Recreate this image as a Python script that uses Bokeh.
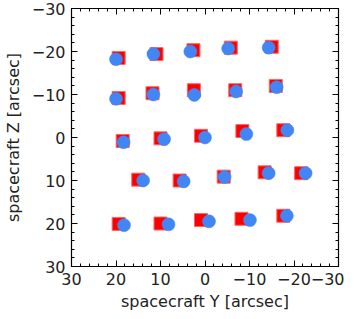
from bokeh.plotting import figure
from bokeh.models import Range1d, FixedTicker, LinearAxis
from bokeh.embed import file_html
from bokeh.resources import INLINE

# Red squares (spacecraft Y, Z)
red_y = [19.4, 10.9, 2.6, -5.8, -15.0,
         19.4, 11.8, 2.5, -6.8, -15.9,
         18.5, 10.0, 0.9, -8.4, -17.6,
         15.0, 5.7, -4.2, -13.4, -21.6,
         19.4, 10.0, 0.9, -8.2, -17.6]
red_z = [-18.5, -19.4, -20.3, -20.9, -21.1,
         -9.2, -10.3, -11.0, -11.0, -12.0,
         0.8, 0.2, -0.4, -1.5, -1.7,
         9.8, 10.0, 9.1, 8.1, 8.3,
         20.1, 20.0, 19.2, 18.9, 18.2]
# Blue circles (spacecraft Y, Z)
blue_y = [20.0, 11.6, 3.3, -5.2, -14.3,
          20.0, 11.6, 2.4, -7.0, -16.1,
          18.3, 9.2, 0.0, -9.3, -18.5,
          13.9, 4.8, -4.4, -14.3, -22.6,
          18.2, 8.2, -0.9, -10.1, -18.4]
blue_z = [-18.2, -19.4, -20.0, -20.7, -20.9,
          -9.0, -10.0, -9.9, -10.7, -11.7,
          1.1, 0.4, 0.0, -0.8, -1.7,
          10.0, 10.2, 9.2, 8.3, 8.3,
          20.4, 20.2, 19.5, 19.2, 18.2]

major = [-30, -20, -10, 0, 10, 20, 30]
minor = list(range(-30, 31, 2))
labels = {v: (("\u2212" + str(-v)) if v < 0 else str(v)) for v in major}

FONT = "DejaVu Sans"
FS = "16px"

p = figure(frame_width=267, frame_height=258,
           x_range=Range1d(30, -30), y_range=Range1d(30, -30),
           output_backend="svg", toolbar_location=None,
           x_axis_label="spacecraft Y [arcsec]",
           y_axis_label="spacecraft Z [arcsec]",
           min_border_top=8, min_border_right=6, min_border_left=4, min_border_bottom=2)
p.grid.visible = False
p.background_fill_color = "white"
p.border_fill_color = "white"
p.outline_line_color = "black"
p.outline_line_width = 1.2

for ax in p.axis:
    ax.ticker = FixedTicker(ticks=major, minor_ticks=minor)
    ax.major_label_overrides = labels
    ax.major_tick_in = 6
    ax.major_tick_out = 0
    ax.minor_tick_in = 3
    ax.minor_tick_out = 0
    ax.axis_line_color = "black"
    ax.major_tick_line_color = "black"
    ax.minor_tick_line_color = "black"
    ax.major_label_text_font = FONT
    ax.major_label_text_font_size = FS
    ax.major_label_text_color = "#222222"
    ax.axis_label_text_font = FONT
    ax.axis_label_text_font_size = FS
    ax.axis_label_text_font_style = "normal"
    ax.axis_label_text_color = "#222222"

p.xaxis[0].major_label_standoff = 6
p.yaxis[0].major_label_standoff = 6
p.xaxis[0].axis_label_standoff = 4
p.yaxis[0].axis_label_standoff = 6

# Mirror ticks on top and right: tick-only axes (no major ticks -> no labels)
for side in ("above", "right"):
    for ticks_at, length in ((minor, 3), (major, 6)):
        ax = LinearAxis(ticker=FixedTicker(ticks=[], minor_ticks=ticks_at),
                        minor_tick_in=length, minor_tick_out=0,
                        major_tick_in=0, major_tick_out=0,
                        axis_line_color="black", minor_tick_line_color="black",
                        major_label_standoff=0)
        p.add_layout(ax, side)

p.scatter(red_y, red_z, marker="square", size=13, fill_color="#ff0000",
          line_color="#ff6666", line_width=1)
p.scatter(blue_y, blue_z, marker="circle", size=13, fill_color="#4286f5",
          line_color="#4286f5", line_width=0.5)

open("out.html", "w").write(file_html(p, INLINE))
